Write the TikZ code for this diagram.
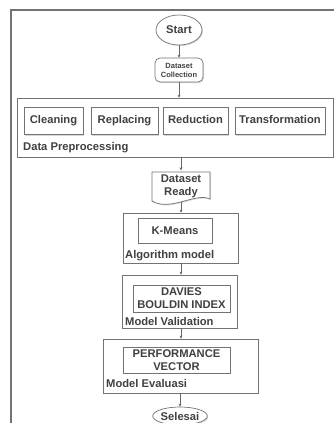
\documentclass[tikz,border=0pt]{standalone}
\usepackage{fontspec}
\setmainfont{Liberation Sans}
\usetikzlibrary{shapes.geometric,positioning,arrows.meta,shadows}

\begin{document}
\begin{tikzpicture}[x=1pt,y=-1pt,>={Stealth[length=3pt,width=3pt]},
	every node/.style={font=\bfseries\fontsize{11.2}{13}\selectfont, text=black!75, align=center, inner sep=1pt},
	box/.style={draw=black!55, line width=0.7pt, fill=white, drop shadow={shadow xshift=1pt,shadow yshift=-1pt,fill=black!30}},
	term/.style={box, ellipse},
	proc/.style={box, rectangle},
	cell/.style={proc, minimum height=27pt, text height=8pt, text depth=2.5pt},
	group/.style={box, rectangle},
	lbl/.style={anchor=west},
	flow/.style={->, draw=black!60, line width=0.6pt}]
	\useasboundingbox (0,0) rectangle (334,423);

	% frame of the page
	\draw[black!55, line width=1.2pt] (11,424) -- (11,10) -- (335,10);

	\node[term, minimum width=46pt, minimum height=30pt](start) at (179,30){Start};
	\node[proc, rounded corners=5pt, minimum width=48pt, minimum height=24pt, font=\bfseries\fontsize{7.5}{9}\selectfont](coll) at (179,70){Dataset\\Collection};

	% data preprocessing
	\node[group, minimum width=316pt, minimum height=59pt](prep) at (175,127.5){};
	\node[cell, minimum width=59pt](clean) at (53.5,121){Cleaning};
	\node[cell, minimum width=67pt](repl) at (124.5,121){Replacing};
	\node[cell, minimum width=65pt](red) at (195.5,121){Reduction};
	\node[cell, minimum width=90pt](trans) at (280,121){Transformation};
	\node[lbl](preplbl) at (22,148){Data Preprocessing};

	% dataset ready (document)
	\draw[box] (152,172) -- (210,172) -- (210,199) .. controls (196,192) and (170,212) .. (152,201) -- cycle;
	\node[minimum width=58pt, minimum height=31pt](ready) at (181,186){Dataset\\Ready};

	% algorithm model
	\node[group, minimum width=115pt, minimum height=50pt](algo) at (180.5,238){};
	\node[proc, minimum width=74pt, minimum height=25pt](kmeans) at (175,230.5){K-Means};
	\node[lbl](algolbl) at (124,256){Algorithm model};

	% model validation
	\node[group, minimum width=115pt, minimum height=53pt](valid) at (179.5,301.5){};
	\node[proc, minimum width=97pt, minimum height=27pt](dbi) at (181.5,298.5){DAVIES\\BOULDIN INDEX};
	\node[lbl](validlbl) at (124,321){Model Validation};

	% model evaluasi
	\node[group, minimum width=155pt, minimum height=54pt](eval) at (180.5,366){};
	\node[proc, minimum width=107pt, minimum height=26pt](perf) at (176.5,360){PERFORMANCE\\VECTOR};
	\node[lbl](evallbl) at (105,383){Model Evaluasi};

	\node[term, minimum width=48pt, minimum height=18pt, inner sep=0pt](end) at (180,416){Selesai};

	\draw[flow] (start.south) -- (coll.north);
	\draw[flow] (coll.south) -- (coll.south |- prep.north);
	\draw[flow] (prep.south -| ready.north) -- (ready.north);
	\draw[flow] (ready.south) -- (ready.south |- algo.north);
	\draw[flow] (algo.south -| ready.south) -- (ready.south |- valid.north);
	\draw[flow] (valid.south -| ready.south) -- (ready.south |- eval.north);
	\draw[flow] (eval.south -| end.north) -- (end.north);
\end{tikzpicture}
\end{document}
